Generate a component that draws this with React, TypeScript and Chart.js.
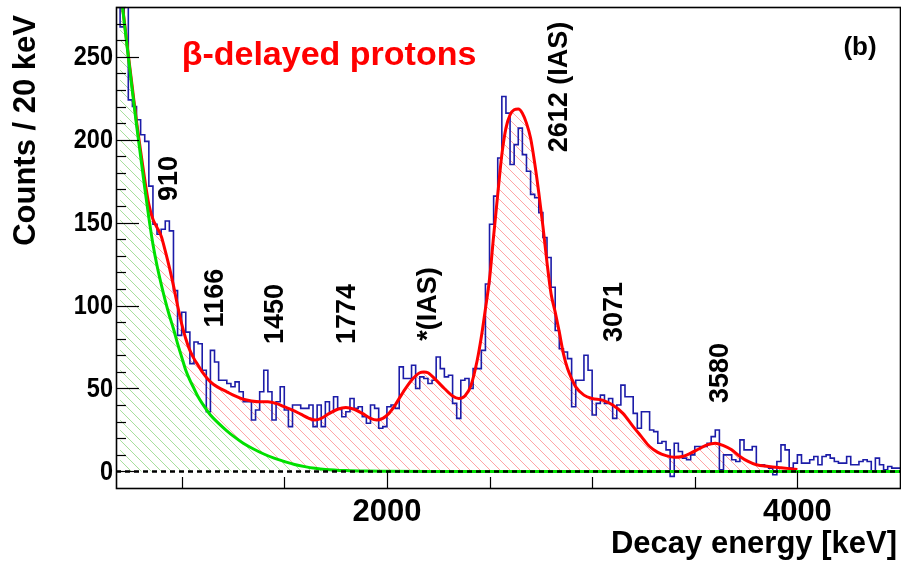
import { useEffect, useRef } from 'react';
import { Chart, registerables } from 'chart.js';

Chart.register(...registerables);

// Measured spectrum: counts in 20 keV bins, first bin starting at 680 keV
const binStartKeV = 680;
const binWidthKeV = 20;
const countsPerBin = [
  300, 268, 300, 224, 220, 212, 203, 199, 172, 149,
  143, 146, 151, 145, 109, 82, 96, 84, 65, 78,
  77, 61, 36, 73, 66, 55, 55, 53, 51, 54,
  48, 42, 42, 31, 37, 48, 61, 48, 31, 42,
  51, 37, 27, 40, 40, 38, 38, 40, 27, 40,
  27, 42, 36, 45, 38, 33, 36, 44, 38, 39,
  33, 29, 40, 38, 26, 27, 39, 40, 38, 63,
  56, 56, 64, 50, 57, 56, 53, 55, 69, 62,
  57, 58, 41, 32, 55, 56, 50, 62, 62, 73,
  113, 149, 166, 189, 226, 216, 185, 197, 207, 191,
  181, 167, 165, 156, 141, 129, 111, 85, 74, 72,
  68, 39, 55, 55, 70, 61, 34, 41, 46, 41,
  44, 32, 40, 52, 45, 45, 35, 26, 36, 36,
  25, 24, 17, 18, 13, -3, 17, 12, 8, 7,
  10, 15, 15, 15, 17, 21, 25, 1, 10, 10,
  7, 6, 19, 13, 13, 15, 4, 4, 3, 2,
  -2, 6, 16, 13, 2, 5, 10, 5, 5, 7,
  9, 4, 9, 10, 8, 6, 5, 5, 9, 4,
  4, 6, 7, 6, 0, 8, 4, 1, 3, 2,
  2,
];

// Total fit (beta background + proton peaks)
const totalFitKeV = [
  700, 720, 740, 760, 780, 800, 820, 840, 860, 880,
  900, 920, 940, 960, 980, 1000, 1020, 1040, 1060, 1080,
  1100, 1140, 1180, 1220, 1260, 1300, 1340, 1380, 1420, 1460,
  1500, 1540, 1580, 1620, 1650, 1680, 1720, 1760, 1800, 1840,
  1880, 1920, 1950, 1980, 2010, 2040, 2080, 2120, 2160, 2180,
  2200, 2240, 2280, 2320, 2350, 2380, 2410, 2440, 2460, 2480,
  2500, 2520, 2540, 2560, 2580, 2600, 2620, 2640, 2660, 2680,
  2700, 2720, 2740, 2760, 2780, 2800, 2820, 2840, 2860, 2880,
  2900, 2920, 2960, 3000, 3050, 3100, 3150, 3200, 3240, 3280,
  3320, 3360, 3400, 3440, 3480, 3520, 3560, 3600, 3640, 3680,
  3720, 3760, 3800, 3860, 3920, 4000,
];
const totalFitCounts = [
  292, 272, 251, 231, 211, 193, 176, 161, 152, 147,
  142, 133, 123, 112, 100, 89, 80, 73, 68, 64,
  60, 54, 50.5, 48, 45.5, 43.5, 42.5, 42, 42, 41,
  39, 37, 34.5, 32, 31, 32, 35, 37.5, 38.5, 37.5,
  35, 32, 31, 32, 35, 40, 48, 55, 59.5, 60,
  59.5, 55, 50, 45.5, 44, 45.5, 52, 67, 81, 98,
  116, 142, 167, 191, 207, 215, 218, 218.5, 216, 210,
  201, 186, 168, 148, 126, 107, 96, 84, 71, 62,
  56, 51, 46, 44, 43, 40, 35, 27, 21, 15,
  11.5, 9.5, 8.5, 9, 11, 13.5, 16, 17, 15.5, 13,
  9, 6, 4, 3, 2.2, 1.2,
];

// Exponential beta background component
const backgroundKeV = [
  700, 720, 740, 760, 780, 800, 820, 840, 860, 880,
  900, 920, 940, 960, 980, 1000, 1020, 1040, 1060, 1080,
  1100, 1140, 1180, 1220, 1260, 1300, 1350, 1400, 1450, 1500,
  1550, 1600, 1650, 1700, 1800, 1900, 2000, 2200, 3000, 4500,
];
const backgroundCounts = [
  292, 271, 250, 229, 209, 190, 171, 153, 137, 124,
  113, 103, 94, 86, 77, 69, 61, 55, 50, 45,
  41, 34, 29, 24.5, 20.5, 17, 13.5, 10.5, 8, 6,
  4.2, 2.9, 1.9, 1.2, 0.5, 0.2, 0.1, 0, 0, 0,
];

// Axis ticks
const xLabelTicks = [2000, 4000];
const xMinorTicks = [1000, 1500, 2500, 3000, 3500];
const yLabelTicks = [0, 50, 100, 150, 200, 250];

// Peak annotations (placed in data coordinates)
const peakNames = ['910', '1166', '1450', '1774', '*(IAS)', '2612 (IAS)', '3071', '3580'];
const peakNameKeV = [931, 1153, 1446, 1796, 2190, 2829, 3097, 3613];
const peakNameCounts = [176.6, 104.5, 94.9, 94.9, 101, 231.8, 96.1, 59.3];

const FONT = '"Liberation Sans", Arial, sans-serif';

function hatch(color: string, spacing: number): CanvasPattern | string {
  const c = document.createElement('canvas');
  c.width = spacing;
  c.height = spacing;
  const g = c.getContext('2d');
  if (!g) return color;
  g.strokeStyle = color;
  g.lineWidth = 1;
  for (const off of [-spacing, 0, spacing]) {
    g.beginPath();
    g.moveTo(off, 0);
    g.lineTo(off + spacing, spacing);
    g.stroke();
  }
  return g.createPattern(c, 'repeat') || color;
}

const frameAndText = {
  id: 'frameAndText',
  afterDraw(chart: any) {
    const { ctx, chartArea: a } = chart;
    const sx = chart.scales.x;
    const sy = chart.scales.y;
    ctx.save();

    // frame
    ctx.strokeStyle = '#000';
    ctx.lineWidth = 1.6;
    ctx.strokeRect(a.left + 0.5, a.top + 0.5, a.right - a.left, a.bottom - a.top);

    // inward y ticks
    ctx.lineWidth = 1.2;
    for (let v = 0; v <= sy.max; v += 10) {
      const py = Math.round(sy.getPixelForValue(v)) + 0.5;
      const len = v % 50 === 0 ? 23 : 10;
      ctx.beginPath();
      ctx.moveTo(a.left, py);
      ctx.lineTo(a.left + len, py);
      ctx.stroke();
    }
    // inward x ticks
    const xt = [...xMinorTicks.map((v) => [v, 11]), ...xLabelTicks.map((v) => [v, 17])];
    for (const [v, len] of xt) {
      const px = Math.round(sx.getPixelForValue(v)) + 0.5;
      ctx.beginPath();
      ctx.moveTo(px, a.bottom);
      ctx.lineTo(px, a.bottom - len);
      ctx.stroke();
    }

    ctx.fillStyle = '#000';
    // y tick labels (narrow-set digits)
    ctx.font = `bold 28px ${FONT}`;
    ctx.textAlign = 'right';
    ctx.textBaseline = 'middle';
    for (const v of yLabelTicks) {
      ctx.save();
      ctx.translate(a.left - 3, sy.getPixelForValue(v) + 1);
      ctx.scale(0.84, 1);
      ctx.fillText(String(v), 0, 0);
      ctx.restore();
    }
    // x tick labels
    ctx.font = `bold 31px ${FONT}`;
    ctx.textAlign = 'center';
    ctx.textBaseline = 'alphabetic';
    for (const v of xLabelTicks) {
      ctx.fillText(String(v), sx.getPixelForValue(v), a.bottom + 33);
    }

    // axis titles
    ctx.font = `bold 31px ${FONT}`;
    ctx.textAlign = 'right';
    ctx.fillText('Decay energy [keV]', 897, 553);
    ctx.save();
    ctx.font = `bold 31px ${FONT}`;
    ctx.translate(35, 15);
    ctx.rotate(-Math.PI / 2);
    ctx.textAlign = 'right';
    ctx.fillText('Counts / 20 keV', 0, 0);
    ctx.restore();

    // peak energies, rotated
    ctx.font = `bold 27px ${FONT}`;
    for (let i = 0; i < peakNames.length; i++) {
      const px = sx.getPixelForValue(peakNameKeV[i]);
      const py = sy.getPixelForValue(peakNameCounts[i]);
      ctx.save();
      ctx.translate(px + 9.7, py);
      ctx.rotate(-Math.PI / 2);
      ctx.textAlign = 'center';
      ctx.fillText(peakNames[i], 0, 0);
      ctx.restore();
    }

    // panel title and tag
    ctx.fillStyle = '#ff0000';
    ctx.font = `bold 34px ${FONT}`;
    ctx.textAlign = 'center';
    ctx.fillText('β-delayed protons', 329, 65);
    ctx.fillStyle = '#000';
    ctx.font = `bold 26px ${FONT}`;
    ctx.textBaseline = 'middle';
    ctx.fillText('(b)', 860, 48);
    ctx.restore();
  },
};

export default function App() {
  const canvasRef = useRef<HTMLCanvasElement | null>(null);

  useEffect(() => {
    const canvas = canvasRef.current;
    if (!canvas) return;

    const histPoints: { x: number; y: number }[] = [];
    countsPerBin.forEach((c, i) => {
      const lo = binStartKeV + i * binWidthKeV;
      histPoints.push({ x: lo, y: c }, { x: lo + binWidthKeV, y: c });
    });
    const totalPoints = totalFitKeV.map((x, i) => ({ x, y: totalFitCounts[i] }));
    const bgPoints = backgroundKeV.map((x, i) => ({ x, y: backgroundCounts[i] }));

    const chart = new Chart(canvas, {
      type: 'line',
      data: {
        datasets: [
          {
            label: 'zero',
            data: [
              { x: binStartKeV, y: 0 },
              { x: binStartKeV + countsPerBin.length * binWidthKeV, y: 0 },
            ],
            borderColor: '#000',
            borderWidth: 2.5,
            borderDash: [5, 4],
            pointRadius: 0,
            fill: false,
          },
          {
            label: 'background',
            data: bgPoints,
            borderColor: '#00e000',
            borderWidth: 3,
            pointRadius: 0,
            cubicInterpolationMode: 'monotone',
            fill: 'origin',
            backgroundColor: hatch('rgba(110, 200, 90, 0.6)', 10),
          },
          {
            label: 'total',
            data: totalPoints,
            borderColor: '#ff0000',
            borderWidth: 3,
            pointRadius: 0,
            cubicInterpolationMode: 'monotone',
            fill: { target: 1 },
            backgroundColor: hatch('rgba(255, 90, 90, 0.55)', 10),
          },
          {
            label: 'data',
            data: histPoints,
            borderColor: '#1c1ca8',
            borderWidth: 1.6,
            pointRadius: 0,
            fill: false,
          },
        ],
      },
      options: {
        animation: false,
        responsive: false,
        layout: { padding: { left: 116, right: 1, top: 7, bottom: 75 } },
        scales: {
          x: { type: 'linear', min: 680, max: 4500, display: false },
          y: { type: 'linear', min: -10, max: 280, display: false },
        },
        plugins: {
          legend: { display: false },
          tooltip: { enabled: false },
          filler: { drawTime: 'beforeDatasetsDraw' },
        } as any,
      },
      plugins: [frameAndText],
    });
    return () => chart.destroy();
  }, []);

  return (
    <div style={{ position: 'fixed', left: 0, top: 0, width: 901, height: 563, background: '#fff' }}>
      <canvas ref={canvasRef} width={901} height={563} />
    </div>
  );
}
